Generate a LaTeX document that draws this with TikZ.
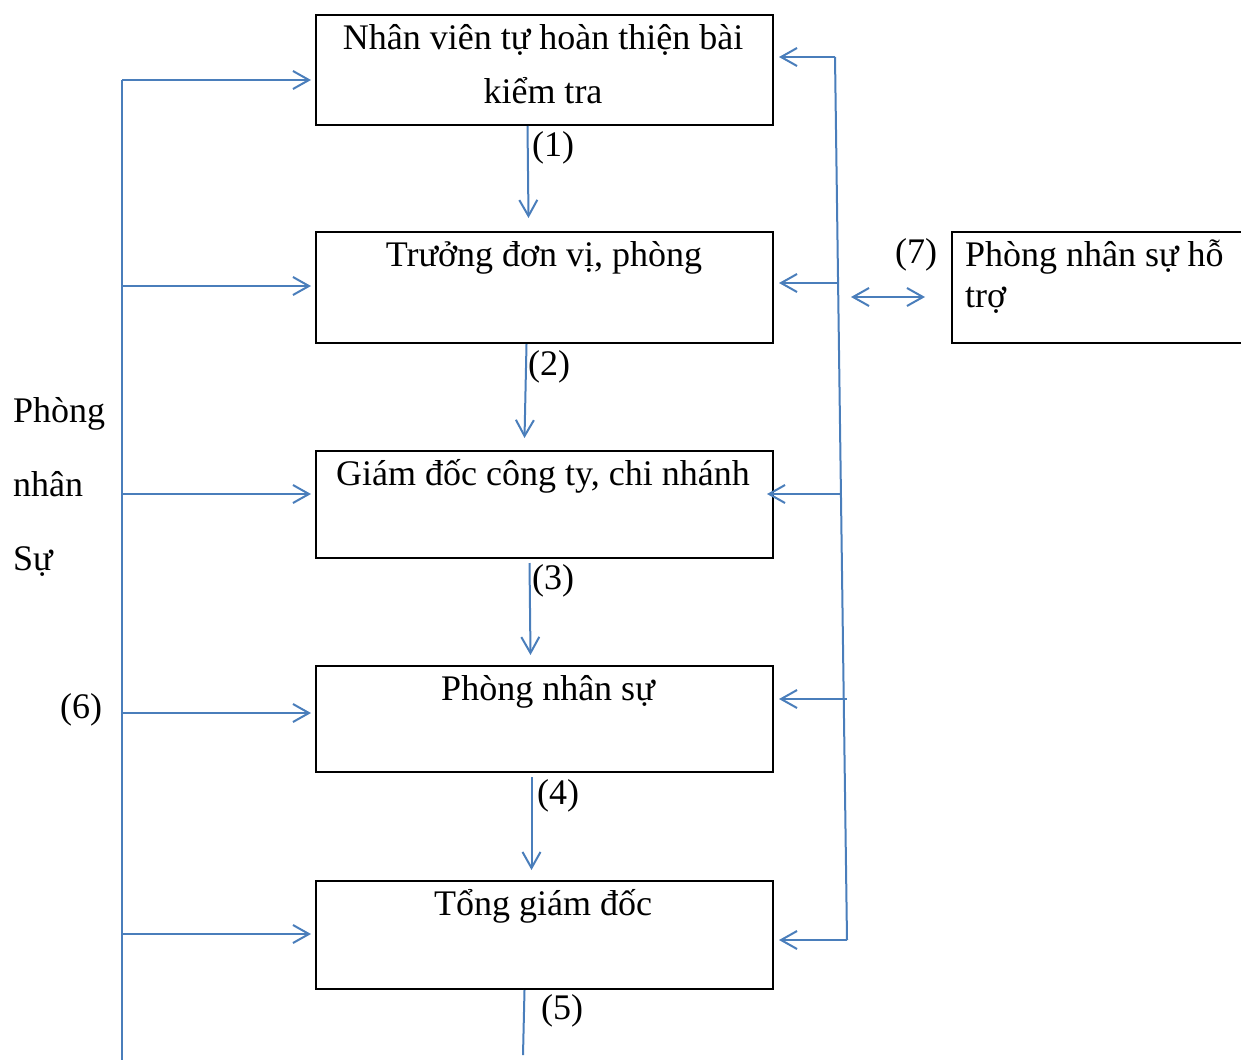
\documentclass[tikz,border=0pt]{standalone}
\usepackage{fontspec}
\setmainfont{Liberation Serif}
\usetikzlibrary{arrows.meta}
\definecolor{lineblue}{RGB}{74,126,187}
\begin{document}
\begin{tikzpicture}[x=1pt,y=-1pt,
  box/.style={draw=black,line width=2pt,minimum width=457pt,minimum height=#1,anchor=north west,inner sep=0pt},
  txt/.style={font=\fontsize{36}{54}\selectfont,inner sep=0pt},
  num/.style={font=\fontsize{36}{40}\selectfont,inner sep=0pt,anchor=base west},
  flow/.style={draw=lineblue,line width=2pt,-{Straight Barb[length=16pt,width=18pt,line width=2pt]}},
  both/.style={draw=lineblue,line width=2pt,{Straight Barb[length=16pt,width=18pt,line width=2pt]}-{Straight Barb[length=16pt,width=18pt,line width=2pt]}},
  wire/.style={draw=lineblue,line width=2pt}]
\useasboundingbox (0,0) rectangle (1241,1063);
% boxes
\node[box=110pt] (b1) at (315,14) {};
\node[box=111pt] (b2) at (315,231) {};
\node[box=107pt] (b3) at (315,450) {};
\node[box=106pt] (b4) at (315,665) {};
\node[box=108pt] (b5) at (315,880) {};
\node[box=111pt,minimum width=330pt] (b6) at (951,231) {};
% box texts (multi-line nodes: base anchor = last line)
\node[txt,anchor=base,align=center] (t1) at (543,103) {Nhân viên tự hoàn thiện bài\\kiểm tra};
\node[txt,anchor=base] (t2) at (544,266) {Trưởng đơn vị, phòng};
\node[txt,anchor=base] (t3) at (543,485) {Giám đốc công ty, chi nhánh};
\node[txt,anchor=base] (t4) at (548,700) {Phòng nhân sự};
\node[txt,anchor=base] (t5) at (543,915) {Tổng giám đốc};
\node[txt,anchor=base west,align=left,font=\fontsize{36}{41}\selectfont] (t6) at (965,307) {Phòng nhân sự hỗ\\trợ};
% side label
\node[txt,anchor=base west,align=left,font=\fontsize{36}{74}\selectfont] (side) at (13,570) {Phòng\\nhân\\Sự};
% step labels
\node[num] (n1) at (532,156) {(1)};
\node[num] (n2) at (528,375) {(2)};
\node[num] (n3) at (532,589) {(3)};
\node[num] (n4) at (537,804) {(4)};
\node[num] (n5) at (541,1019) {(5)};
\node[num] (n6) at (60,718) {(6)};
\node[num] (n7) at (895,263) {(7)};
% downward flow
\draw[flow] ([xshift=-17pt]b1.south) -- ([xshift=-16pt,yshift=13pt]b2.north);
\draw[flow] ([xshift=-18pt]b2.south) -- ([xshift=-20pt,yshift=12pt]b3.north);
\draw[flow] ([xshift=-15pt,yshift=-4pt]b3.south) -- ([xshift=-14pt,yshift=10pt]b4.north);
\draw[flow] ([xshift=-13pt,yshift=-4pt]b4.south) -- ([xshift=-13pt,yshift=10pt]b5.north);
\coordinate (e5) at (523,1055);
\draw[wire] ([xshift=-20pt]b5.south) -- (e5);
% left bus
\coordinate (L1) at (122,80);
\coordinate (L2) at (122,286);
\coordinate (L3) at (122,494);
\coordinate (L4) at (122,713);
\coordinate (L5) at (122,934);
\coordinate (Lend) at (122,1060);
\draw[wire] (L1) -- (Lend);
\foreach \i in {1,...,5}{
  \draw[flow,shorten >=4pt] (L\i) -- (b\i.west |- L\i);
}
% right bus
\coordinate (R1) at (835,57);
\coordinate (R2) at (836.5,283);
\coordinate (R3) at (839.5,494);
\coordinate (R4) at (847,699);
\coordinate (R5) at (847,940);
\draw[wire] (R1) -- (R5);
\draw[flow,shorten >=5pt] (R1) -- (b1.east |- R1);
\draw[flow,shorten >=5pt] (R2) -- (b2.east |- R2);
\draw[flow,shorten >=-7pt] (R3) -- (b3.east |- R3);
\draw[flow,shorten >=5pt] (R4) -- (b4.east |- R4);
\draw[flow,shorten >=5pt] (R5) -- (b5.east |- R5);
% support link
\coordinate (D7) at (851,297);
\draw[both,shorten >=26pt] (D7) -- (b6.west |- D7);
\end{tikzpicture}
\end{document}
